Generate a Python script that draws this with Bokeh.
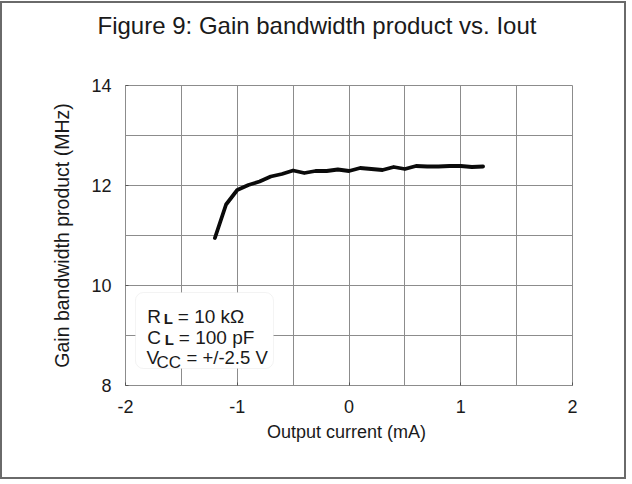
from bokeh.plotting import figure
from bokeh.models import FixedTicker, Label, BoxAnnotation, PrintfTickFormatter, Title
from bokeh.embed import file_html
from bokeh.resources import INLINE

# ---- data ----
current_ma = [-1.2, -1.1, -1.0, -0.9, -0.8, -0.7, -0.6, -0.5, -0.4, -0.3, -0.2, -0.1,
              0.0, 0.1, 0.2, 0.3, 0.4, 0.5, 0.6, 0.7, 0.8, 0.9, 1.0, 1.1, 1.2]
gbw_mhz = [10.95, 11.62, 11.91, 12.01, 12.08, 12.18, 12.23, 12.30, 12.25, 12.29, 12.29, 12.32,
           12.29, 12.35, 12.33, 12.31, 12.37, 12.33, 12.39, 12.38, 12.38, 12.39, 12.39, 12.37, 12.38]
x_ticks = [-2, -1, 0, 1, 2]
x_grid = [-2, -1.5, -1, -0.5, 0, 0.5, 1, 1.5, 2]
y_ticks = [8, 10, 12, 14]
y_grid = [8, 9, 10, 11, 12, 13, 14]
title_text = "Figure 9: Gain bandwidth product vs. Iout"
x_label = "Output  current (mA)"
y_label = "Gain bandwidth product (MHz)"

FONT = "Liberation Sans"
TXT = "#1a1a1a"
GRID = "#8c8c8c"

W, H = 626, 478
p = figure(width=W, height=H, output_backend="svg", toolbar_location=None,
           x_range=(-2, 2), y_range=(8, 14), title=None,
           min_border_left=123, min_border_right=56, min_border_top=82, min_border_bottom=96)
p.styles = {"border": "2px solid #6a6a6a", "margin-top": "1px"}

# spacer title (nearest the frame), then the real title stacked above it
p.add_layout(Title(text=" ", text_font_size="1px", standoff=39), "above")
p.add_layout(Title(text=title_text, text_font=FONT, text_font_size="24px",
                   text_font_style="normal", text_color=TXT, align="left",
                   offset=-28, standoff=10), "above")

p.background_fill_color = "white"
p.border_fill_color = "white"
p.outline_line_color = GRID
p.outline_line_width = 1

p.xaxis.ticker = FixedTicker(ticks=x_ticks)
p.yaxis.ticker = FixedTicker(ticks=y_ticks)
p.xaxis.formatter = PrintfTickFormatter(format="%d")
p.yaxis.formatter = PrintfTickFormatter(format="%d")
p.xgrid.ticker = FixedTicker(ticks=x_grid)
p.ygrid.ticker = FixedTicker(ticks=y_grid)
p.grid.grid_line_color = GRID
p.grid.grid_line_width = 1
p.grid.grid_line_alpha = 1.0

for ax in (p.xaxis[0], p.yaxis[0]):
    ax.axis_line_color = None
    ax.major_tick_line_color = "#555555"
    ax.major_tick_in = 3
    ax.major_tick_out = 0
    ax.minor_tick_line_color = None
    ax.major_label_text_font = FONT
    ax.major_label_text_font_size = "18px"
    ax.major_label_text_color = TXT
    ax.axis_label_text_font = FONT
    ax.axis_label_text_font_style = "normal"
    ax.axis_label_text_color = TXT

p.xaxis.axis_label = x_label
p.yaxis.axis_label = y_label
p.xaxis.axis_label_text_font_size = "18px"
p.yaxis.axis_label_text_font_size = "19.5px"
p.xaxis.major_label_standoff = 14
p.yaxis.major_label_standoff = 14
p.xaxis.axis_label_standoff = 6
p.yaxis.axis_label_standoff = 15

p.line(current_ma, gbw_mhz, line_color="#0a0a0a", line_width=3.8, line_join="round", line_cap="round")

def px2x(px):
    return (px - 125) / 111.75 - 2

def py2y(py):
    return 8 + (385 - py) / 50

# condition box
p.add_layout(BoxAnnotation(left=-1.911, right=-0.676, bottom=8.34, top=9.86,
                           fill_color="white", fill_alpha=1.0, line_color="#d6d6d6",
                           line_width=1, border_radius=8, level="overlay"))

pieces = [
    ("R", 146.7, 316, "19px", "normal"),
    ("L", 163.3, 318, "15px", "bold"),
    ("= 10 kΩ", 177.3, 316, "19px", "normal"),
    ("C", 146.7, 336.7, "19px", "normal"),
    ("L", 164.3, 338.5, "15px", "bold"),
    ("= 100 pF", 178.3, 336.7, "19px", "normal"),
    ("V", 146, 356.7, "19px", "normal"),
    ("CC", 156, 361.7, "17px", "normal"),
    ("= +/-2.5 V", 186, 356.7, "18.5px", "normal"),
]
for t, px, py, fs, st in pieces:
    p.add_layout(Label(x=px2x(px), y=py2y(py), text=t, text_font=FONT, text_font_size=fs,
                       text_font_style=st, text_color=TXT, text_align="left",
                       text_baseline="alphabetic", level="overlay"))

open("out.html", "w").write(file_html(p, INLINE))
